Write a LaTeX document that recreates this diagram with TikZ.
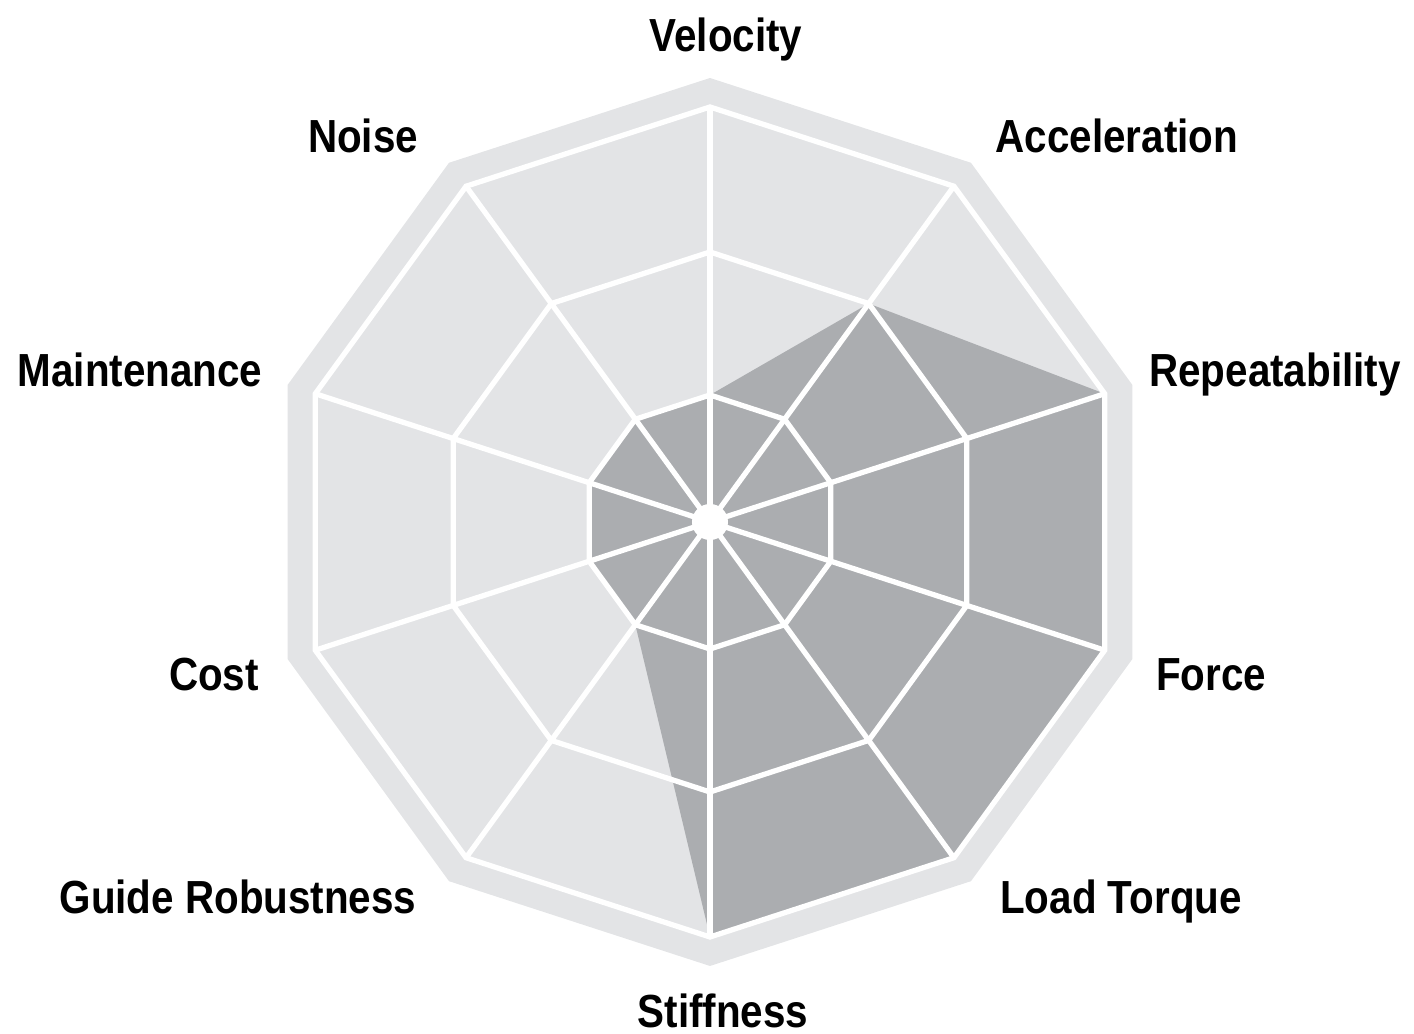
\documentclass[tikz,border=0pt]{standalone}
\usepackage{fontspec}
\setmainfont{Liberation Sans}[FakeStretch=0.87]
\usetikzlibrary{positioning}
\definecolor{webgray}{RGB}{227,228,230}
\definecolor{datagray}{RGB}{171,173,176}

\begin{document}
\begin{tikzpicture}[x=0.01cm, y=0.01cm,
	axislabel/.style={font=\bfseries\fontsize{13.2}{15}\selectfont, anchor=base, inner sep=0pt},
	gridline/.style={draw=white, line width=1.5pt, line join=miter}]
	\useasboundingbox (-710,-512) rectangle (704,522);
	\coordinate (c) at (0,0);

	% outer band and background
	\fill[webgray] (90:444) \foreach \a in {54,18,...,-234} { -- (\a:444) } -- cycle;

	% data
	\fill[datagray] (90:127) -- (54:270) -- (18:415) -- (-18:415) -- (-54:415)
		-- (-90:415) -- (-126:127) -- (-162:127) -- (162:127) -- (126:127) -- cycle;

	% rings and spokes
	\foreach \r in {127,270,415}
		\draw[gridline] (90:\r) \foreach \a in {54,18,...,-234} { -- (\a:\r) } -- cycle;
	\foreach \a in {90,54,...,-234}
		\draw[gridline] (c) -- (\a:415);
	\fill[white] (c) circle (18);

	% labels
	\foreach \name/\txt/\x/\y in {vel/Velocity/16/470, acc/Acceleration/407/369,
		rep/Repeatability/565/135, frc/Force/501/-169, ltq/Load Torque/411/-392,
		stf/Stiffness/13/-506, grb/Guide Robustness/-472/-392, cst/Cost/-496/-169,
		mnt/Maintenance/-570/135, nse/Noise/-347/369}
		\node[axislabel] (\name) at (\x,\y) {\txt};
\end{tikzpicture}
\end{document}
